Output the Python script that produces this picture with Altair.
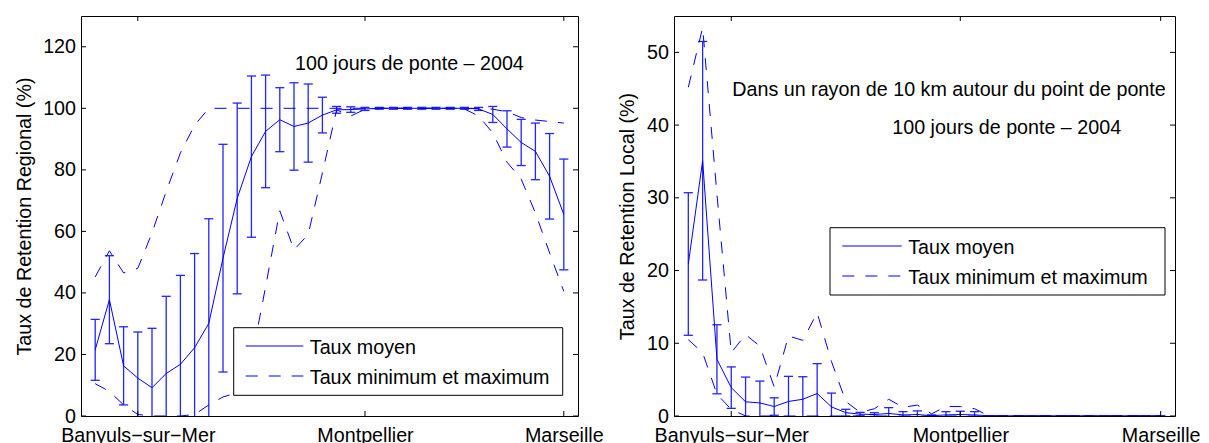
import altair as alt
import pandas as pd

# ---------------- data ----------------
idx = list(range(1, 35))

left_mean = [21.5, 37.8, 16.3, 12.3, 9.2, 13.8, 16.8, 22.2, 30.1, 51.3,
             70.7, 84.3, 92.5, 96.3, 94.1, 95.2, 97.8, 99.5, 99.6, 99.8,
             100, 100, 100, 100, 100, 100, 100, 99.8, 98.0, 93.3,
             88.9, 86.0, 77.9, 65.5]
left_err = [9.9, 14.3, 12.7, 15.0, 19.3, 25.1, 28.9, 30.6, 34.0, 37.0,
            31.0, 26.2, 18.3, 10.4, 14.2, 12.7, 5.8, 1.1, 0.9, 0.5,
            0.3, 0.3, 0.3, 0.3, 0.3, 0.3, 0.3, 0.5, 2.6, 5.9,
            7.5, 9.2, 13.9, 18.0]
left_min = [10.5, 8.0, 3.6, 0.5, 0, 0, 0, 0.5, 3.6, 6.2,
            7.5, 18, 42, 66.7, 54, 59, 79, 99.5, 97.5, 99.7,
            100, 100, 100, 100, 100, 100, 99.8, 97.5, 92, 82.5,
            77, 66, 53, 40.5]
left_max = [45.2, 53.7, 46.5, 48.0, 59.5, 73, 85.5, 94.5, 100, 100,
            100, 100, 100, 100, 100, 100, 100, 100, 100, 100,
            100, 100, 100, 100, 100, 100, 100, 100, 99.7, 98.9,
            97.0, 96.2, 95.7, 95.2]

right_mean = [20.9, 35.1, 7.8, 3.9, 1.95, 1.8, 1.3, 2.0, 2.3, 3.1,
              1.25, 0.46, 0.25, 0.2, 0.35, 0.15, 0.2, 0.05, 0.15, 0.2,
              0.15, 0.03, 0.03, 0.03, 0.03, 0.03, 0.03, 0.03, 0.03, 0.03,
              0.03, 0.03, 0.03, 0.03]
right_err = [9.8, 16.4, 4.75, 2.85, 3.4, 3.0, 1.2, 3.45, 3.1, 4.1,
             1.9, 0.46, 0.25, 0.25, 0.8, 0.45, 0.5, 0.1, 0.45, 0.45,
             0.45, 0, 0, 0, 0, 0, 0, 0, 0, 0,
             0, 0, 0, 0]
right_min = [10.5, 8.7, 3.0, 0.9, 0, 0, 0, 0, 0, 0,
             0, 0, 0, 0, 0, 0, 0, 0, 0, 0,
             0, 0, 0, 0, 0, 0, 0, 0, 0, 0,
             0, 0, 0, 0]
right_max = [45.2, 53.4, 30.5, 8.7, 11.2, 9.6, 4.0, 11.0, 10.4, 14.2,
             7.5, 2.0, 0.5, 1.0, 2.3, 1.2, 1.5, 0.3, 1.3, 1.3,
             1.0, 0, 0, 0, 0, 0, 0, 0, 0, 0,
             0, 0, 0, 0]

tick_pos = [4, 20, 34]
tick_labels = ["Banyuls\u2212sur\u2212Mer", "Montpellier", "Marseille"]
left_yticks = [0, 20, 40, 60, 80, 100, 120]
right_yticks = [0, 10, 20, 30, 40, 50]
legend_labels = ["Taux moyen", "Taux minimum et maximum"]
left_title = "Taux de Retention Regional (%)"
right_title = "Taux de Retention Local (%)"
note_year = "100 jours de ponte \u2013 2004"
note_radius = "Dans un rayon de 10 km autour du point de ponte"

# ---------------- style ----------------
FONT = "Liberation Sans"
FS = 19.7
BLUE = "#0000ff"
EBLUE = "#2424ff"
DASH = [12, 11]
H = 400


def panel(mean, err, vmin, vmax, ydom, yticks, ytitle, W, extent, notes, leg):
    df = pd.DataFrame({"i": idx, "mean": mean, "err": err, "vmin": vmin, "vmax": vmax})
    df["lo"] = df["mean"] - df["err"]
    df["hi"] = df["mean"] + df["err"]
    df["l"] = df["i"] - 0.32
    df["r"] = df["i"] + 0.32

    xs = alt.Scale(domain=[0, 35], nice=False, zero=False)
    ys = alt.Scale(domain=ydom, nice=False, zero=False)
    label_expr = " : ".join(
        f"datum.value == {p} ? '{l}'" for p, l in zip(tick_pos, tick_labels)
    ) + " : ''"
    xax = alt.Axis(values=tick_pos, labelExpr=label_expr, title="")
    yax = alt.Axis(values=yticks, format="d", title=ytitle, titlePadding=9,
                   minExtent=extent, maxExtent=extent)

    X = lambda f: alt.X(f, scale=xs, axis=xax)
    Y = lambda f: alt.Y(f, scale=ys, axis=yax)

    base = alt.Chart(df)
    bars = base.mark_rule(color=EBLUE, strokeWidth=1.3, clip=True).encode(
        x=X("i:Q"), y=Y("lo:Q"), y2="hi:Q")
    cap_hi = base.mark_rule(color=EBLUE, strokeWidth=1.3, clip=True).encode(
        x=X("l:Q"), x2="r:Q", y=Y("hi:Q"))
    cap_lo = base.mark_rule(color=EBLUE, strokeWidth=1.3, clip=True).encode(
        x=X("l:Q"), x2="r:Q", y=Y("lo:Q"))
    mean_line = base.mark_line(color=BLUE, strokeWidth=1, clip=True).encode(
        x=X("i:Q"), y=Y("mean:Q"))
    max_line = base.mark_line(color=BLUE, strokeWidth=1, strokeDash=DASH, clip=True).encode(
        x=X("i:Q"), y=Y("vmax:Q"))
    min_line = base.mark_line(color=BLUE, strokeWidth=1, strokeDash=DASH, clip=True).encode(
        x=X("i:Q"), y=Y("vmin:Q"))

    # inside ticks (MATLAB style box)
    ydf = alt.Chart(pd.DataFrame({"v": yticks}))
    xdf = alt.Chart(pd.DataFrame({"t": tick_pos}))
    tk = dict(color="black", strokeWidth=1)
    yt_l = ydf.mark_rule(**tk).encode(x=alt.value(0), x2=alt.value(5), y=Y("v:Q"))
    yt_r = ydf.mark_rule(**tk).encode(x=alt.value(W - 5), x2=alt.value(W), y=Y("v:Q"))
    xt_t = xdf.mark_rule(**tk).encode(x=X("t:Q"), y=alt.value(0), y2=alt.value(5))
    xt_b = xdf.mark_rule(**tk).encode(x=X("t:Q"), y=alt.value(H - 5), y2=alt.value(H))

    layers = [bars, cap_hi, cap_lo, mean_line, max_line, min_line, yt_l, yt_r, xt_t, xt_b]

    for (tx, ty, txt) in notes:
        layers.append(
            alt.Chart(pd.DataFrame({"a": [0]})).mark_text(
                align="left", baseline="alphabetic", font=FONT, fontSize=FS, color="black"
            ).encode(x=alt.value(tx), y=alt.value(ty), text=alt.value(txt))
        )

    # legend box
    bx1, bx2, by1, by2, lx1, lx2, ty0 = leg
    one = alt.Chart(pd.DataFrame({"a": [0]}))
    layers.append(one.mark_rect(fill="white", stroke="black", strokeWidth=1).encode(
        x=alt.value(bx1), x2=alt.value(bx2), y=alt.value(by1), y2=alt.value(by2)))
    for k, lab in enumerate(legend_labels):
        yy = ty0 + 30 * k
        style = dict(color=BLUE, strokeWidth=1)
        if k == 1:
            style["strokeDash"] = DASH
        layers.append(one.mark_rule(**style).encode(
            x=alt.value(lx1), x2=alt.value(lx2), y=alt.value(yy)))
        layers.append(one.mark_text(align="left", baseline="alphabetic", font=FONT,
                                    fontSize=FS, color="black").encode(
            x=alt.value(lx2 + 6.5), y=alt.value(yy + 7.5), text=alt.value(lab)))

    return alt.layer(*layers).properties(width=W, height=H)


left = panel(left_mean, left_err, left_min, left_max, [0, 130], left_yticks,
             left_title, 497, 38,
             [(214, 54, note_year)],
             (152.7, 481.7, 311.7, 379.3, 164.7, 222.3, 330))
right = panel(right_mean, right_err, right_min, right_max, [0, 55], right_yticks,
              right_title, 501, 28,
              [(58.3, 80, note_radius), (218.3, 117.7, note_year)],
              (156, 491, 211.7, 279, 168.3, 227.7, 230))

chart = alt.hconcat(left, right, spacing=96, bounds="flush").properties(
    padding={"left": 5, "top": 7, "right": 0, "bottom": 0}
).configure(font=FONT).configure_view(
    stroke="black", strokeWidth=1
).configure_axis(
    grid=False, ticks=False, domain=False, labelFlush=False,
    labelOverlap=False, labelFont=FONT, labelFontSize=FS, labelColor="black",
    titleFont=FONT, titleFontSize=FS, titleFontWeight="normal", titleColor="black",
).configure_axisX(labelPadding=9, labelAngle=0).configure_axisY(labelPadding=5.5)

chart.save("out.html", embed_options={"renderer": "svg", "actions": False})
